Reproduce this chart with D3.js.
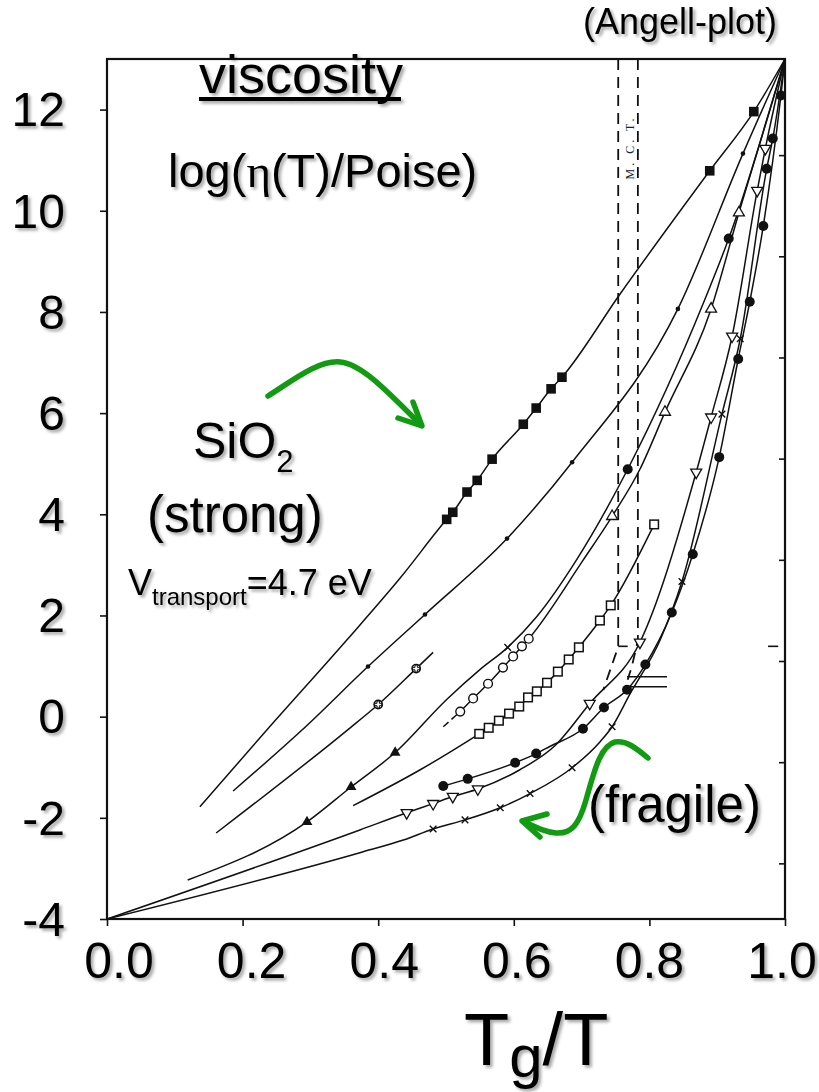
<!DOCTYPE html>
<html><head><meta charset="utf-8">
<script src="https://cdn.jsdelivr.net/npm/d3@7"></script>
<style>html,body{margin:0;padding:0;background:#fff;} svg{display:block;font-family:"Liberation Sans",Arial,sans-serif;}</style>
</head><body>
<svg id="c" width="819" height="1092"></svg>
<script>
// ---------- axis data ----------
const xTicks = [0, 0.2, 0.4, 0.6, 0.8, 1.0];
const xTickLabels = ["0.0","0.2","0.4","0.6","0.8","1.0"];
const yTicks = [-4,-2,0,2,4,6,8,10,12];
const yTickLabels = ["-4","-2","0","2","4","6","8","10","12"];
const rightTicks = [-2.9,-0.9,1.1,3.1,5.1,7.1,9.1,11.1];

// ---------- series: [Tg/T, log(eta/Poise)] ----------
const sio2Line  = [[0.137,-1.78],[0.236,-0.26],[0.354,1.52],[0.433,2.75],[0.757,8.36],[1,13]];
const sio2Marks = [[0.501,3.90],[0.510,4.04],[0.531,4.44],[0.546,4.67],[0.568,5.09],[0.614,5.78],[0.633,6.10],[0.655,6.48],[0.671,6.71],[0.889,10.79],[0.954,11.96]];

const bLine  = [[0.186,-1.47],[0.288,-0.26],[1,13]];
const bMarks = [[0.385,0.99],[0.469,2.02],[0.590,3.52],[0.686,5.03],[0.842,8.06],[0.938,11.13]];

const cLine  = [[0.161,-2.30],[0.355,-0.26],[0.481,1.27]];
const cMarks = [[0.400,0.24],[0.456,0.95]];

const dLine  = [[0.119,-3.23],[0.501,0.34],[0.550,0.93],[0.634,1.98],[0.693,3.11],[0.881,8.22],[1,13]];
const dTri   = [[0.295,-2.08],[0.360,-1.39],[0.425,-0.71]];
const dX     = [[0.591,1.37]];
const dCirc  = [[0.768,4.89],[0.917,9.45]];

const p2Start = [[0.496,-0.20],[0.521,0.10]];
const p2Line = [[0.702,3.09],[0.786,4.89],[1,13]];
const p2Circ = [[0.521,0.10],[0.540,0.36],[0.562,0.65],[0.584,0.97],[0.599,1.19],[0.612,1.39],[0.622,1.54]];
const p2Tri  = [[0.745,3.96],[0.823,6.02],[0.891,8.06],[0.932,9.96]];

const eLine  = [[0.363,-1.76],[0.462,-1.05]];
const eMarks = [[0.549,-0.34],[0.563,-0.22],[0.578,-0.08],[0.593,0.06],[0.608,0.20],[0.621,0.38],[0.634,0.50],[0.649,0.67],[0.665,0.89],[0.681,1.13],[0.696,1.37],[0.727,1.90],[0.743,2.20],[0.807,3.80]];

const fLine  = [[0,-4],[0.373,-2.24],[0.609,-1.05],[0.661,-0.57],[1,13]];
const fMarks = [[0.442,-1.90],[0.481,-1.72],[0.510,-1.58],[0.547,-1.43],[0.712,0.26],[0.786,1.47],[0.869,4.83],[0.891,5.92],[0.922,7.52],[0.959,10.40],[0.971,11.23]];

const gLine  = [[0,-4],[0.373,-2.69],[0.437,-2.44],[0.727,-0.50],[0.771,0.44],[0.816,1.52],[1,13]];
const gX     = [[0.481,-2.22],[0.528,-2.04],[0.580,-1.80],[0.624,-1.52],[0.686,-1.01],[0.745,-0.20],[0.848,2.67],[0.907,5.98],[0.934,7.47]];
const gCirc  = [[0.973,10.83],[0.982,11.43]];

const hLine  = [[0.653,-0.59],[1,13]];
const hMarks = [[0.496,-1.37],[0.532,-1.23],[0.602,-0.91],[0.633,-0.73],[0.702,-0.24],[0.733,0.18],[0.767,0.53],[0.794,1.03],[0.833,2.06],[0.864,3.21],[0.903,5.13],[0.931,7.07],[0.948,8.20],[0.968,9.70],[0.994,12.28]];

// MCT dashed lines and small marks
const mctLeft  = [[0.754,13],[0.754,1.38],[0.746,1.07],[0.732,0.53]];
const mctRight = [[0.783,13],[0.783,1.52],[0.779,1.27],[0.774,0.99],[0.768,0.73]];
const mctDash  = [[0.754,1.39],[0.768,1.39]];
const tcLine1  = [[0.767,0.79],[0.826,0.79]];
const tcLine2  = [[0.767,0.59],[0.826,0.59]];
const rightMark = [[0.975,1.39],[0.990,1.39]];

// ---------- setup ----------
const svg = d3.select("#c");
const defs = svg.append("defs");
const flt = defs.append("filter").attr("id","sh").attr("x","-20%").attr("y","-20%").attr("width","150%").attr("height","150%");
flt.append("feDropShadow").attr("dx",2.5).attr("dy",2.5).attr("stdDeviation",1.6).attr("flood-color","#000").attr("flood-opacity",0.35);

const x = d3.scaleLinear().domain([0,1]).range([107,785]);
const y = d3.scaleLinear().domain([-4,13]).range([919,59]);
const xLab = d3.scaleLinear().domain([0,1]).range([119,782]);
const INK = "#111";

// frame
svg.append("rect").attr("x",x(0)).attr("y",y(13)).attr("width",x(1)-x(0)).attr("height",y(-4)-y(13))
  .attr("fill","none").attr("stroke",INK).attr("stroke-width",2.2);

// axes
const gx = svg.append("g").attr("transform",`translate(0,${y(-4)})`)
  .call(d3.axisBottom(x).tickValues(xTicks).tickSize(7).tickFormat(""));
const gy = svg.append("g").attr("transform",`translate(${x(0)},0)`)
  .call(d3.axisLeft(y).tickValues(yTicks).tickSize(7).tickFormat(""));
const gr = svg.append("g").attr("transform",`translate(${x(1)},0)`)
  .call(d3.axisLeft(y).tickValues(rightTicks).tickSize(6).tickFormat(""));
[gx,gy,gr].forEach(g=>{ g.select(".domain").remove(); g.selectAll("line").attr("stroke",INK).attr("stroke-width",1.6); });

// tick labels
svg.append("g").selectAll("text").data(xTicks).join("text")
  .attr("x",d=>xLab(d)).attr("y",978).attr("text-anchor","middle")
  .attr("font-size",50).attr("fill","#000").attr("filter","url(#sh)")
  .text((d,i)=>xTickLabels[i]);
svg.append("g").selectAll("text").data(yTicks).join("text")
  .attr("x",65).attr("y",d=>y(d)).attr("dy","0.35em").attr("text-anchor","end")
  .attr("font-size",48).attr("fill","#000").attr("filter","url(#sh)")
  .text((d,i)=>yTickLabels[i]);

// ---------- curves ----------
const lineGen = d3.line().x(d=>x(d[0])).y(d=>y(d[1])).curve(d3.curveMonotoneX);
const straight = d3.line().x(d=>x(d[0])).y(d=>y(d[1]));
function merged(...arrs){ return arrs.flat().slice().sort((a,b)=>a[0]-b[0]); }

const curves = [
  merged(sio2Line, sio2Marks),
  merged(bLine, bMarks),
  merged(cLine, cMarks),
  merged(dLine, dTri, dX, dCirc),
  merged(p2Line, p2Circ, p2Tri),
  merged(eLine, eMarks),
  merged(fLine, fMarks),
  merged(gLine, gX, gCirc),
  merged(hLine, hMarks)
];
svg.append("g").selectAll("path").data(curves).join("path")
  .attr("d",lineGen).attr("fill","none").attr("stroke",INK).attr("stroke-width",1.5);
svg.append("path").datum(p2Start).attr("d",straight).attr("fill","none").attr("stroke",INK)
  .attr("stroke-width",1.5).attr("stroke-dasharray","7,4");

// MCT dashed
svg.append("g").selectAll("path").data([mctLeft, mctRight]).join("path")
  .attr("d",straight).attr("fill","none").attr("stroke",INK).attr("stroke-width",1.8).attr("stroke-dasharray","11,7");
svg.append("g").selectAll("path").data([mctDash, tcLine1, tcLine2, rightMark]).join("path")
  .attr("d",straight).attr("fill","none").attr("stroke",INK).attr("stroke-width",1.6);

// MCT label
svg.append("text").attr("transform",`translate(${x(0.771)},${y(11.25)}) rotate(-90)`)
  .attr("text-anchor","middle").attr("dy","0.35em").attr("font-family","Liberation Serif, serif")
  .attr("font-size",12).attr("letter-spacing",3).attr("fill","#222").text("M. C. T.");

// ---------- markers ----------
const mg = svg.append("g");
function drawMarks(pts, type){
  const sel = mg.append("g").selectAll("g").data(pts).join("g")
    .attr("transform",d=>`translate(${x(d[0])},${y(d[1])})`);
  if(type==="fsq") sel.append("rect").attr("x",-4.8).attr("y",-4.8).attr("width",9.6).attr("height",9.6).attr("fill",INK);
  if(type==="osq") sel.append("rect").attr("x",-4.3).attr("y",-4.3).attr("width",8.6).attr("height",8.6).attr("fill","#fff").attr("stroke",INK).attr("stroke-width",1.5);
  if(type==="dot") sel.append("circle").attr("r",2.3).attr("fill",INK);
  if(type==="ocirc") sel.append("circle").attr("r",4.4).attr("fill","#fff").attr("stroke",INK).attr("stroke-width",1.4);
  if(type==="fcirc") sel.append("circle").attr("r",5).attr("fill",INK);
  if(type==="pcirc"){
    sel.append("circle").attr("r",4.2).attr("fill","#fff").attr("stroke",INK).attr("stroke-width",1.4);
    sel.append("path").attr("d",d3.symbol(d3.symbolCross,28)()).attr("fill","none").attr("stroke",INK).attr("stroke-width",1);
  }
  if(type==="ftri") sel.append("path").attr("d",d3.symbol(d3.symbolTriangle,50)()).attr("fill",INK);
  if(type==="otri") sel.append("path").attr("d",d3.symbol(d3.symbolTriangle,52)()).attr("fill","#fff").attr("stroke",INK).attr("stroke-width",1.3);
  if(type==="otrid") sel.append("path").attr("d",d3.symbol(d3.symbolTriangle,52)()).attr("transform","rotate(180)").attr("fill","#fff").attr("stroke",INK).attr("stroke-width",1.3);
  if(type==="x") sel.append("path").attr("d",d3.symbol(d3.symbolTimes||d3.symbolX,30)()).attr("fill","none").attr("stroke",INK).attr("stroke-width",1.4);
}
drawMarks(sio2Marks,"fsq");
drawMarks(bMarks,"dot");
drawMarks(cMarks,"pcirc");
drawMarks(dTri,"ftri");
drawMarks(dX,"x");
drawMarks(dCirc,"fcirc");
drawMarks(p2Circ,"ocirc");
drawMarks(p2Tri,"otri");
drawMarks(eMarks,"osq");
drawMarks(fMarks,"otrid");
drawMarks(gX,"x");
drawMarks(gCirc,"fcirc");
drawMarks(hMarks,"fcirc");

// ---------- annotations ----------
const GREEN = "#139a13";
const ann = svg.append("g").attr("fill","none").attr("stroke",GREEN).attr("stroke-width",5.5)
  .attr("stroke-linecap","round").attr("stroke-linejoin","round");
ann.append("path").attr("d","M268,396 C292,381 318,360 340,362 C362,364 388,392 421,425");
ann.append("path").attr("d","M398,418 L422,426 L413,402");
ann.append("path").attr("d","M648,758 C636,748 626,740 615,742 C600,746 594,772 586,800 C579,824 572,834 556,833 C545,832 534,827 523,821");
ann.append("path").attr("d","M547,814 L522,821 L540,837");

const T = svg.append("g").attr("fill","#000").attr("filter","url(#sh)");
T.append("text").attr("x",583).attr("y",34).attr("font-size",36).text("(Angell-plot)");
T.append("text").attr("x",199).attr("y",93).attr("font-size",54).text("viscosity");
T.append("rect").attr("x",199).attr("y",97).attr("width",202).attr("height",4).attr("fill","#000");
const lt = T.append("text").attr("x",168).attr("y",187).attr("font-size",47);
lt.append("tspan").text("log(");
lt.append("tspan").attr("font-family","Liberation Serif, serif").text("η");
lt.append("tspan").text("(T)/Poise)");

const si = T.append("text").attr("x",193).attr("y",458).attr("font-size",50);
si.append("tspan").text("SiO");
si.append("tspan").attr("font-size",31).attr("dy",14).text("2");
T.append("text").attr("x",147).attr("y",532).attr("font-size",51).text("(strong)");
const vt = T.append("text").attr("x",128).attr("y",595).attr("font-size",36);
vt.append("tspan").text("V");
vt.append("tspan").attr("font-size",24).attr("dy",10).text("transport");
vt.append("tspan").attr("dy",-10).text("=4.7 eV");
T.append("text").attr("x",588).attr("y",822).attr("font-size",51).text("(fragile)");

const tg = T.append("text").attr("x",464).attr("y",1065).attr("font-size",74);
tg.append("tspan").text("T");
tg.append("tspan").attr("font-size",60).attr("dy",12).text("g");
tg.append("tspan").attr("dy",-12).text("/T");
</script>
</body></html>
